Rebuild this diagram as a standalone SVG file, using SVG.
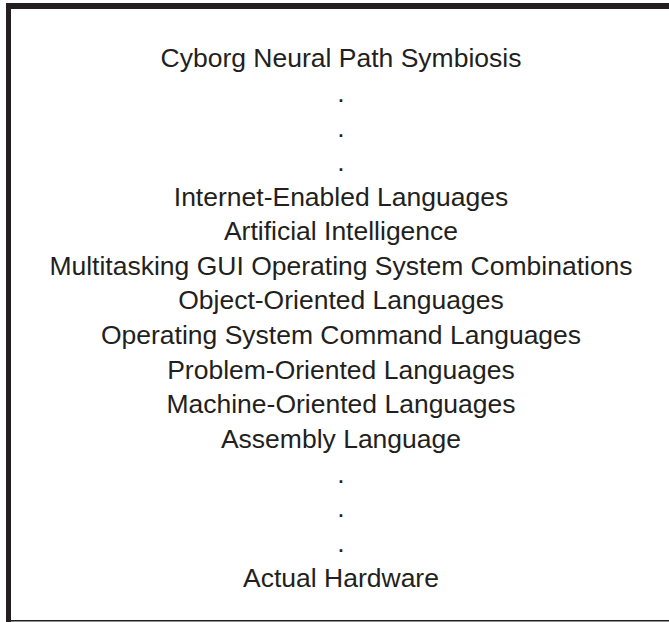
<svg xmlns="http://www.w3.org/2000/svg" width="669" height="622" viewBox="0 0 669 622">
<style>
.t{font-family:"Liberation Sans",Arial,Helvetica,sans-serif;font-size:26.5px;fill:#231f20;text-anchor:middle}
.b{fill:#231f20}
</style>
<rect width="669" height="622" fill="#ffffff"/>
<g id="frame">
<rect class="b" x="6" y="3" width="663" height="6"/>
<rect class="b" x="6" y="3" width="5" height="619"/>
<rect class="b" x="6" y="620" width="663" height="1.5"/>
</g>
<g id="levels">
<text class="t" x="341" y="67">Cyborg Neural Path Symbiosis</text>
<text class="t" x="341" y="102">.</text>
<text class="t" x="341" y="136.5">.</text>
<text class="t" x="341" y="171">.</text>
<text class="t" x="341" y="205.5">Internet-Enabled Languages</text>
<text class="t" x="341" y="240">Artificial Intelligence</text>
<text class="t" x="341" y="274.7">Multitasking GUI Operating System Combinations</text>
<text class="t" x="341" y="309">Object-Oriented Languages</text>
<text class="t" x="341" y="344">Operating System Command Languages</text>
<text class="t" x="341" y="378.7">Problem-Oriented Languages</text>
<text class="t" x="341" y="413.3">Machine-Oriented Languages</text>
<text class="t" x="341" y="448">Assembly Language</text>
<text class="t" x="341" y="482.7">.</text>
<text class="t" x="341" y="517.3">.</text>
<text class="t" x="341" y="552">.</text>
<text class="t" x="341" y="586.7">Actual Hardware</text>
</g>
</svg>
